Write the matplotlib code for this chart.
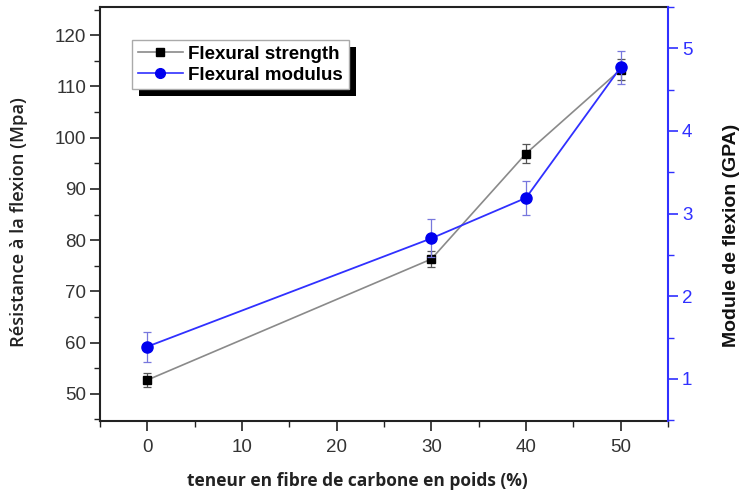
import matplotlib
matplotlib.use("Agg")
import matplotlib.pyplot as plt
from matplotlib.ticker import MultipleLocator
from matplotlib.lines import Line2D
from matplotlib.patches import Rectangle

fiber = [0, 30, 40, 50]
strength = [52.7, 76.3, 96.9, 113.3]
strength_err = [1.3, 1.6, 1.9, 2.1]
modulus = [1.39, 2.70, 3.19, 4.77]
modulus_err = [0.18, 0.23, 0.21, 0.20]

plt.rcParams['font.family'] = ['Liberation Sans', 'DejaVu Sans']

W, H = 739, 495
fig = plt.figure(figsize=(W / 100, H / 100), dpi=100)
ax = fig.add_axes([100 / W, 1 - 421 / H, 568 / W, 414 / H])
ax2 = ax.twinx()

gray = '#8a8a8a'
blue = '#3030ff'
ax.errorbar(fiber, strength, yerr=strength_err, color=gray, lw=1.2,
            marker='s', ms=6, mfc='black', mec='black', ecolor='#555555',
            elinewidth=0.9, capsize=3, capthick=0.9)
ax2.errorbar(fiber, modulus, yerr=modulus_err, color=blue, lw=1.3,
             marker='o', ms=8, mfc='#0000ee', mec='#0000ee', ecolor='#7777dd',
             elinewidth=0.9, capsize=3, capthick=0.9)

ax.set_xlim(-5, 55)
ax.set_ylim(44.7, 125.5)
ax2.set_ylim(0.49, 5.5)

ax.xaxis.set_major_locator(MultipleLocator(10))
ax.xaxis.set_minor_locator(MultipleLocator(5))
ax.yaxis.set_major_locator(MultipleLocator(10))
ax.yaxis.set_minor_locator(MultipleLocator(5))
ax2.yaxis.set_major_locator(MultipleLocator(1))
ax2.yaxis.set_minor_locator(MultipleLocator(0.5))

ax.tick_params(axis='both', which='major', direction='out', length=7, width=1.2,
               labelsize=13.5, color='#222222', labelcolor='#333333', pad=3)
ax.tick_params(axis='both', which='minor', direction='out', length=4, width=1.0, color='#222222')
ax.tick_params(axis='x', pad=6)
ax2.tick_params(axis='y', which='major', direction='out', length=7, width=1.2,
                labelsize=13.5, colors=blue, pad=3)
ax2.tick_params(axis='y', which='minor', direction='out', length=4, width=1.0, colors=blue)

for s in ['left', 'bottom', 'top']:
    ax.spines[s].set_linewidth(1.5)
    ax.spines[s].set_color('#222222')
ax2.spines['right'].set_color(blue)
ax2.spines['right'].set_linewidth(1.5)
ax2.spines['left'].set_visible(False)
ax2.spines['top'].set_visible(False)
ax2.spines['bottom'].set_visible(False)
ax.spines['right'].set_visible(False)

fig.text(357 / W, 1 - 481 / H, 'teneur en fibre de carbone en poids (%)',
         family=['Open Sans', 'DejaVu Sans'], fontweight='bold', fontsize=12.5,
         color='#222222', ha='center', va='center')
fig.text(19 / W, 1 - 222 / H, 'Résistance à la flexion (Mpa)',
         family=['Open Sans', 'DejaVu Sans'], fontweight='semibold', fontsize=13.2,
         color='#222222', ha='center', va='center', rotation=90)
fig.text(731 / W, 1 - 235 / H, 'Module de flexion (GPA)',
         family=['Liberation Sans', 'DejaVu Sans'], fontweight='bold', fontsize=14,
         color='#111111', ha='center', va='center', rotation=90)

h1 = Line2D([], [], color=gray, lw=1.2, marker='s', ms=5.5, mfc='black', mec='black')
h2 = Line2D([], [], color=blue, lw=1.2, marker='o', ms=7, mfc='#0000ee', mec='#0000ee')
leg = ax.legend(handles=[h1, h2], labels=['Flexural strength', 'Flexural modulus'],
                loc='upper left', bbox_to_anchor=((132 - 100) / 568, (421 - 40) / 414),
                fancybox=False, edgecolor='#aaaaaa', framealpha=1,
                prop={'weight': 'bold', 'size': 13.5}, handlelength=2.4,
                borderpad=0.3, labelspacing=0.2, handletextpad=0.3, borderaxespad=0)
leg.get_frame().set_linewidth(1.0)
leg.set_zorder(10)

fig.canvas.draw()
bb = leg.get_frame().get_window_extent(fig.canvas.get_renderer())
sh = Rectangle((bb.x0 + 7, bb.y0 - 7), bb.width, bb.height, transform=None,
               facecolor='black', edgecolor='none', zorder=9)
ax.add_artist(sh)

fig.savefig('out.png', dpi=100)
